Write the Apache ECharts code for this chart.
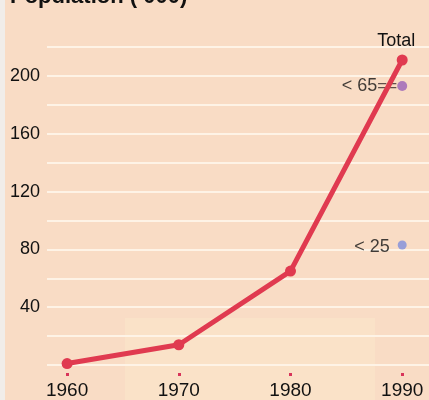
<!DOCTYPE html>
<html><head><meta charset="utf-8">
<script src="https://cdn.jsdelivr.net/npm/echarts@6/dist/echarts.min.js"></script>
<style>html,body{margin:0;padding:0;background:#f1ede9;}#c{width:429px;height:400px;}</style>
</head><body><div id="c"></div>
<script>
var years = [1960, 1970, 1980, 1990];
var total = [1, 14, 65, 211];
var under65 = [[1990, 193]];
var under25 = [[1990, 83]];
var yTicks = [40, 80, 120, 160, 200];
var titleText = "Population (\u2019000)";

var chart = echarts.init(document.getElementById('c'));
var font = "'Liberation Sans', Arial, sans-serif";
chart.setOption({
  backgroundColor: '#f9dcc5',
  animation: false,
  grid: {left: 47, right: 0, top: 47, bottom: 33},
  graphic: [
    {type: 'rect', shape: {x: 0, y: 0, width: 5, height: 400}, style: {fill: '#f1ede9'}, z: -10},
    {type: 'rect', shape: {x: 125, y: 318, width: 250, height: 82}, style: {fill: '#fae2c8'}, z: -10, silent: true},
    {type: 'text', x: 10, y: 8, style: {text: titleText, font: 'bold 22px ' + font, fill: '#111', textVerticalAlign: 'bottom'}}
  ],
  xAxis: {
    type: 'value', min: 1958.2, max: 1992.4, offset: 8,
    axisLine: {show: false, onZero: false},
    splitLine: {show: false},
    axisTick: {show: true, customValues: years, length: 3, lineStyle: {color: '#d8345a', width: 3}},
    axisLabel: {customValues: years, margin: 8, fontSize: 19, color: '#111', fontFamily: font, formatter: function(v){return String(v);}}
  },
  yAxis: {
    type: 'value', min: 0, max: 220, interval: 20,
    axisLine: {show: false}, axisTick: {show: false},
    splitLine: {show: true, lineStyle: {color: '#fef3e6', width: 2}},
    axisLabel: {customValues: yTicks, margin: 7, fontSize: 18, color: '#111', fontFamily: font}
  },
  series: [
    {type: 'scatter', data: under25, symbolSize: 9, itemStyle: {color: '#7f8fdc'},
     label: {show: true, position: 'left', distance: 8, offset: [0, 2], formatter: '< 25', fontSize: 18, color: '#111', fontFamily: font}},
    {type: 'scatter', data: under65, symbolSize: 10, itemStyle: {color: '#9a62b8'}, z: 1,
     label: {show: true, position: 'left', distance: 0, formatter: '{t|< 65}{e|==}',
       rich: {t: {fontSize: 18, color: '#111', fontFamily: font}, e: {fontSize: 17, color: '#3a2a2a', fontFamily: font}}}},
    {type: 'line', data: years.map(function(y, i){return [y, total[i]];}), z: 5,
     lineStyle: {color: '#e03a50', width: 5}, itemStyle: {color: '#e03a50'},
     symbol: 'circle', symbolSize: 11, showSymbol: true,
     label: {show: true, position: 'top', distance: 6, offset: [-6, 2], fontSize: 18, color: '#111', fontFamily: font,
       formatter: function(p){return p.dataIndex === 3 ? 'Total' : '';}}}
  ]
});
</script></body></html>
